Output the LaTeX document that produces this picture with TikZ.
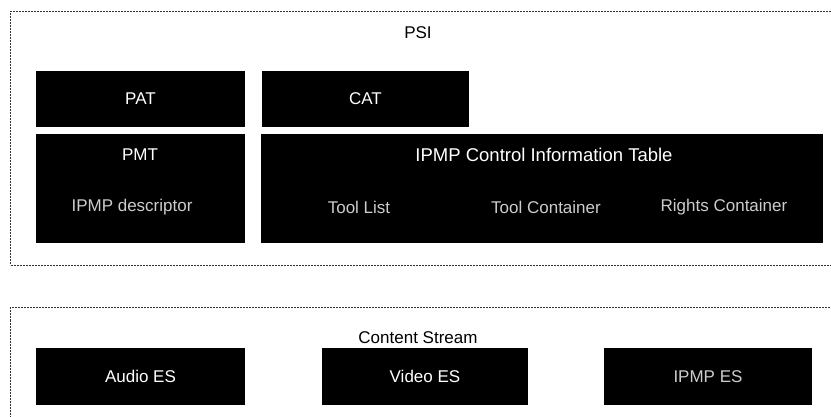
\documentclass[tikz,border=0pt]{standalone}
\usepackage{fontspec}
\setmainfont{Liberation Sans}
\begin{document}
\begin{tikzpicture}[x=1pt,y=-1pt,
  outerbox/.style={draw=black!80, dash pattern=on 2pt off 1pt, line width=1pt, fill=white},
  blk/.style={fill=black, draw=none, inner sep=0pt, outer sep=0pt},
  wtxt/.style={text=white, inner sep=0pt, font=\fontsize{17}{20}\selectfont},
  wsmall/.style={text=white!80!black, inner sep=0pt, font=\fontsize{17}{20}\selectfont},
  btxt/.style={text=black, inner sep=0pt, font=\fontsize{17}{20}\selectfont}]
\useasboundingbox (0,0) rectangle (831,417);
\clip (0,0) rectangle (831,417);
% PSI group
\node[outerbox, inner sep=0pt, minimum width=826pt, minimum height=254pt, anchor=north west] (psi) at (10,11) {};
\node[btxt] (psit) at (418,33) {PSI};
\node[blk, minimum width=209pt, minimum height=56pt] (pat) at (140.5,99) {};
\node[wtxt] at (pat.center) {PAT};
\node[blk, minimum width=207pt, minimum height=56pt] (cat) at (365.5,99) {};
\node[wtxt] at (cat.center) {CAT};
\node[blk, minimum width=209pt, minimum height=109pt] (pmt) at (140.5,188.5) {};
\node[wtxt] (pmtt) at (140,155) {PMT};
\node[wsmall] (ipmpd) at (132,207) {IPMP descriptor};
\node[blk, minimum width=562pt, minimum height=109pt] (cit) at (542,188.5) {};
\node[wtxt, font=\fontsize{18.5}{22}\selectfont] (citt) at (544,155) {IPMP Control Information Table};
\node[wsmall] (tl) at (359,207) {Tool List};
\node[wsmall] (tc) at (546,207) {Tool Container};
\node[wsmall] (rc) at (724,207) {Rights Container};
% Content stream group
\node[outerbox, inner sep=0pt, minimum width=826pt, minimum height=118pt, anchor=north west] (cs) at (10,307) {};
\node[btxt] (cst) at (418,338) {Content Stream};
\node[blk, minimum width=209pt, minimum height=57pt] (aes) at (140.5,376.5) {};
\node[wtxt] at (aes.center) {Audio ES};
\node[blk, minimum width=206pt, minimum height=57pt] (ves) at (425,376.5) {};
\node[wtxt] at (ves.center) {Video ES};
\node[blk, minimum width=208pt, minimum height=57pt] (ies) at (708,376.5) {};
\node[wsmall] at (ies.center) {IPMP ES};
\end{tikzpicture}
\end{document}
